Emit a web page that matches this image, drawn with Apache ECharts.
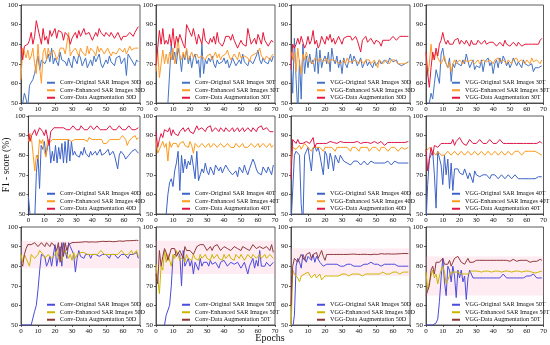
<!DOCTYPE html>
<html><head><meta charset="utf-8">
<script src="https://cdn.jsdelivr.net/npm/echarts@6/dist/echarts.min.js"></script>
<style>html,body{margin:0;padding:0;background:#fff}#c{width:550px;height:345px}</style>
</head><body><div id="c"></div>
<script>
// ---- DATA ----
const xTicks = [0, 10, 20, 30, 40, 50, 60, 70];
const yTicks = [50, 60, 70, 80, 90, 100];
const panelModels = ['Conv','Conv','VGG','VGG','Conv','Conv','VGG','VGG','Conv','Conv','VGG','VGG'];
const panelTags = ['30D','30T','30D','30T','40D','40T','40D','40T','50D','50T','50D','50T'];
const seriesKinds = ['Original SAR Images','Enhanced SAR Images','Data Augmentation'];

const o1=[48,50,55,52,48,59,60,62,65,70,74,67,72,71,70,72,75,71,78,70,73,72,69,76,72,73,71,69,73,70,68,74,72,70,75,73,69,71,73,68,70,72,69,74,71,73,75,70,68,69,72,70,74,71,70,69,73,72,74,70,71,73,64,75,74,72,71,69,72,71];
const e1=[62,78,76,73,77,72,74,78,70,65,80,68,60,76,78,72,78,74,73,77,75,72,74,78,77,78,75,74,86,74,76,75,78,77,74,78,76,77,74,79,75,78,77,76,74,79,76,78,77,75,76,78,76,74,76,77,75,74,78,77,76,78,75,76,79,77,76,78,77,78];
const r1=[79,72,79,79,80,82,86,80,84,92,88,84,80,88,82,84,80,87,84,85,88,83,87,86,86,82,86,87,84,80,83,84,86,83,87,84,85,88,85,84,86,84,82,84,86,84,88,86,85,84,86,87,84,86,85,83,84,86,85,82,84,85,84,83,86,85,84,86,85,89];

const o2=[40,40,40,40,40,42,48,50,51,80,72,76,70,78,74,66,75,72,77,70,74,68,73,75,70,72,63,80,65,72,70,73,71,74,70,68,72,70,69,71,73,70,72,68,70,73,71,69,70,72,70,75,71,70,69,72,73,70,71,74,77,72,70,73,71,72,70,73,71,74];
const e2=[66,77,63,62,77,70,75,70,76,72,78,70,75,83,74,72,76,73,78,72,74,76,73,72,75,73,72,74,73,72,74,73,75,72,74,76,73,75,72,74,73,75,77,74,72,73,75,74,72,76,73,72,74,75,73,71,74,73,75,74,76,78,74,73,72,74,73,72,74,75];
const r2=[69,68,87,80,88,80,82,80,85,79,88,78,84,81,85,84,80,78,90,91,86,84,88,84,80,85,84,80,88,82,81,80,83,81,84,80,86,81,82,79,81,84,83,84,82,85,82,81,78,80,82,80,81,79,88,84,80,81,83,80,85,84,80,86,82,83,79,80,82,81];

const o3=[72,55,83,62,45,72,52,80,65,74,68,75,70,72,66,78,65,77,68,72,74,70,76,66,78,72,70,74,68,72,65,73,70,68,72,75,70,74,72,69,71,73,68,70,72,69,71,70,68,71,69,70,72,70,69,72,71,70,73,74,71,70,72,70,71,69,68,70,71,71];
const e3=[76,72,76,66,78,70,65,75,72,76,73,71,72,70,73,72,71,73,72,71,72,73,70,72,71,72,73,71,72,70,71,72,70,73,71,72,71,70,72,71,70,72,71,70,72,71,72,70,71,72,70,68,72,71,70,71,72,71,70,72,71,72,71,70,71,70,71,70,71,71];
const r3=[67,80,78,80,83,80,84,85,78,80,84,80,82,87,80,82,78,80,84,82,80,84,82,85,81,83,80,82,84,82,80,83,82,84,83,84,82,83,84,82,83,76,82,83,84,81,82,83,82,80,82,83,81,79,82,83,82,83,82,83,84,83,82,83,84,83,84,83,84,84];

const o4=[45,48,50,55,52,60,67,68,60,75,78,72,70,68,73,61,70,68,72,70,71,69,72,70,75,74,68,70,72,67,69,70,68,72,66,71,70,73,69,71,65,70,72,68,73,70,74,72,69,71,68,70,73,72,69,71,70,68,72,70,71,69,68,70,66,68,69,68,69,69];
const e4=[75,64,70,80,72,74,76,73,72,70,72,74,70,68,71,66,70,72,70,71,72,71,70,72,73,71,70,72,71,70,71,72,70,71,72,73,71,70,72,71,70,72,71,73,71,70,72,71,70,72,71,70,72,71,73,71,70,72,71,70,72,71,70,73,71,70,72,71,70,72];
const r4=[76,65,58,68,76,72,78,74,80,82,86,82,80,82,80,81,80,82,81,83,80,82,81,80,82,81,79,82,80,81,80,82,81,80,81,82,80,79,81,80,81,80,79,80,81,80,79,82,80,81,79,80,81,80,79,81,80,79,78,80,79,80,79,80,79,80,79,80,82,83];

const o5=[59,50,48,45,48,71,80,63,85,83,87,80,84,88,76,82,77,85,76,84,78,86,76,87,76,88,77,87,80,82,80,81,79,82,80,84,81,80,79,82,80,81,82,80,81,83,80,79,81,82,83,80,81,82,80,81,73,80,82,83,80,78,79,80,81,82,81,83,82,81];
const e5=[87,91,88,80,72,80,78,88,86,88,82,79,88,86,87,88,87,88,89,88,87,88,89,88,87,88,89,87,88,88,87,88,89,88,87,88,88,87,89,88,88,87,88,89,88,87,88,86,85,86,87,88,87,88,89,88,87,88,89,90,91,88,85,87,88,89,88,90,88,89];
const r5=[92,87,90,91,93,90,89,94,93,92,90,93,92,85,92,93,94,93,94,93,94,93,94,95,93,94,93,94,95,94,93,94,93,95,94,93,94,93,94,95,94,93,94,95,94,93,94,93,94,93,94,95,94,93,94,93,94,95,94,93,94,93,94,95,94,93,94,93,94,94];

const o6=[40,40,40,40,42,45,50,60,66,68,64,72,76,82,62,80,71,78,73,77,75,80,79,68,82,67,70,73,71,76,72,70,74,72,70,75,76,72,74,71,70,75,74,72,73,70,71,72,69,74,73,71,75,72,70,73,72,78,76,73,71,72,70,74,73,71,74,72,70,75];
const e6=[88,81,82,85,87,84,86,77,87,84,86,85,86,84,86,85,87,85,86,84,87,85,81,86,85,84,85,86,85,84,85,86,84,85,86,85,84,85,86,85,84,85,86,85,84,85,84,86,85,84,85,86,84,85,84,85,86,85,84,85,86,84,85,86,85,84,85,86,84,85];
const r6=[92,84,88,91,89,93,94,92,94,90,93,91,92,90,92,93,94,92,93,94,92,93,91,92,95,93,92,94,93,92,94,93,95,92,93,94,93,92,94,93,92,94,93,92,93,94,92,93,94,92,93,94,92,93,94,93,92,94,93,92,94,93,95,93,92,94,93,92,93,92];

const o7=[45,62,80,82,81,80,55,45,80,82,84,85,72,83,85,82,84,80,79,70,82,80,73,81,78,72,80,78,76,80,79,77,78,76,77,75,76,77,76,77,76,75,76,77,76,75,76,77,76,76,75,76,77,76,75,76,76,77,76,75,76,77,76,76,75,76,77,76,76,76];
const e7=[76,84,85,83,84,85,83,82,86,85,84,83,82,84,83,84,85,84,83,82,84,83,84,83,84,83,82,84,83,84,83,84,83,84,83,82,84,83,84,83,82,84,83,84,83,84,82,83,84,83,84,83,82,84,83,84,83,82,83,84,83,84,83,82,83,84,83,83,84,84];
const r7=[68,88,87,86,88,86,87,86,85,87,86,86,85,89,84,86,87,86,87,86,87,86,86.5,87,86,86.5,87,86,86.5,87,86,86.5,87,86.5,86,86.5,87,86.5,86,87,86.5,86,87,86.5,86,86.5,87,86,86.5,87,86.5,86,86.5,87,86,85,86,86.5,87,86.5,86,86.5,87,86.5,86,86.5,87,86.5,86.5,87];

const o8=[45,65,78,80,82,70,53,82,83,75,65,80,70,78,63,76,62,73,72,73,71,72,70,73,72,68,71,70,66,72,70,71,69,68,70,69,70,69,68,70,69,70,69,68,69,70,69,68,69,70,69,68,69,70,69,68,69,68,67,68,69,68,67,68,69,68,67,69,69,69];
const e8=[82,83,84,83,82,81,80,82,81,80,81,80,81,82,81,80,81,82,81,80,81,82,81,80,81,82,81,80,81,82,81,80,81,82,81,80,81,82,81,80,81,82,81,80,81,82,81,80,81,82,81,80,81,82,81,82,81,80,81,82,81,82,81,82,81,82,83,81,81,80];
const r8=[83,72,78,84,80,85,86,84,85,86,87,86,85,86,87,86,88,85,87,86,89,88,86,87,85,86,88,87,86,87,86,87,88,87,86,87,86,87,88,87,86,87,86,87,88,87,86,87,86,87,86,87,86,85,86,87,86,87,86,87,86,87,86,85,86,87,86,87,87,86];

const o9=[50,50,50,50,50,50,50,51,57,60,68,78,86,87,85,80,82,85,80,79,91,80,85,90,80,92,88,84,92,90,88,86,77,84,88,85,86,84,86,85,86,84,86,85,86,87,85,84,86,85,86,85,84,86,85,86,85,84,85,86,85,86,85,84,86,85,86,85,87,84];
const e9=[86,82,86,84,83,80,86,87,84,85,86,88,87,86,84,83,86,87,84,85,86,88,84,85,83,86,88,87,84,86,83,87,84,86,85,87,86,87,88,86,87,86,87,86,87,86,87,88,87,86,87,86,87,86,87,86,87,86,87,88,87,86,87,86,87,88,86,87,88,85];
const r9=[82,80,86,89,91,90,91,90,92,91,90,91,92,91,90,92,91,90,92,91,90,88,92,82,92,85,92,88,91,92,92,92.3,92.1,92.4,92.2,92.5,92.3,92.2,92.5,92.4,92.3,92.6,92.4,92.5,92.3,92.6,92.5,92.4,92.7,92.5,92.6,92.4,92.7,92.6,92.5,92.8,92.6,92.7,92.9,92.8,92.7,92.9,93,92.8,93,92.9,93.1,93,93.2,93.1];

const o10=[40,40,40,40,45,50,55,56,60,70,85,86,87,88,86,70,88,80,82,84,80,83,76,82,80,78,84,80,82,81,82,80,83,81,80,82,83,79,82,81,83,82,80,81,82,83,81,80,82,81,79,80,82,81,76,80,82,84,79,83,80,88,80,81,80,82,81,80,81,82];
const e10=[81,82,66,80,78,88,82,86,85,80,86,84,88,87,83,84,85,82,86,84,85,83,86,84,85,83,86,84,85,86,84,85,83,86,84,85,86,84,85,83,86,84,85,86,84,85,83,86,85,84,86,85,83,84,86,85,84,86,85,84,85,86,84,85,86,84,85,86,85,84];
const r10=[76,71,88,80,85,89,87,83,82,89,88,89,85,84,88,87,84,90,88,87,88,89,86,88,90,89,91,90,91,90,88,89,90,88,90,89,91,90,88,89,90,91,89,90,88,89,90,91,89,90,88,90,91,89,90,88,89,91,90,89,88,90,91,89,88,90,89,88,91,87];

const o11=[45,48,55,80,84,82,79,86,84,82,85,86,83,86,82,85,84,82,83,80,79,81,80,81,80,81,80,81,80,80,81,80,80,81,80,81,80,80,81,80,81,80,81,81,80,81,81,82,81,81,82,81,81,80,81,81,80,81,80,81,80,81,80,80,81,80,80,80,80,80];
const e11=[45,78,76,75,74,72,75,74,76,75,77,76,74,75,76,74,75,76,73,74,75,76,75,74,75,76,75,76,75,76,76,75,76,76,75,76,76,75,76,76,76,76,75,76,76,76,76,77,76,76,76,77,76,76,77,76,76,77,76,77,77,76,77,77,76,77,77,76,77,77];
const r11=[60,80,84,85,82,84,86,85,83,86,85,87,84,86,85,87,84,86,88,85,83,86,85,86,85.5,86,85.5,86,86.2,86,85.8,86,86.3,86,85.8,86.1,86,86.2,85.9,86,86.2,86,85.9,86.1,86.3,86,86.2,85.9,86,86.1,86.3,86,86.2,86.4,86.1,86.2,86,86.3,86.1,86.2,86.4,86.2,86.1,86.3,86.2,86.4,86.3,86.5,86.3,86.4];

const o12=[50,50,50,50,50,50,51,53,62,74,84,72,65,80,78,72,80,75,64,78,74,78,72,75,63,74,78,76,74,73,74,73,74,75,74,73,74,75,74,73,74,75,74,75,74,75,76,75,74,75,74,75,74,75,74,75,74,75,74,75,75,74,75,75,76,75,74,74,74,74];
const e12=[77,68,72,75,78,74,76,71,75,78,80,77,71,73,75,77,76,77,76,77,78,76,77,76,77,76,77,77.5,77,77.5,77,77.5,77.5,77,77.5,77.5,77,77.5,77.5,77,77.5,77.5,77,77.5,77.5,77,77.5,77.5,77,77.5,77.5,77,77.5,77.5,77,77.5,77.5,77,77.5,77.5,77,77.5,77.5,77,77,76.5,77,77,77.5,77.5];
const r12=[65,66,70,78,80,76,82,82,82,83,84,81,82,81,83,80,82,84,83,85,84,82,83,81,82,84,82,83,82,83,83,82.5,83,83.5,83,82.5,83,83.5,83,82.5,83,83.5,83,82.5,83,83.5,83,82.5,83,83,82.5,83,83.5,83,82.5,82,83,83.5,83,82.5,83,82.5,82,83,82.5,83,82.5,83,83.5,83];

const originalSets = [o1,o2,o3,o4,o5,o6,o7,o8,o9,o10,o11,o12];
const enhancedSets = [e1,e2,e3,e4,e5,e6,e7,e8,e9,e10,e11,e12];
const augmentedSets = [r1,r2,r3,r4,r5,r6,r7,r8,r9,r10,r11,r12];
// shaded band (y range) for bottom-row panels
const bandLow  = [null,null,null,null,null,null,null,null,79,76,75,65];
const bandHigh = [null,null,null,null,null,null,null,null,93,93,89,85];

// ---- LAYOUT / STYLE ----
const FONT = '"Liberation Serif","Times New Roman",serif';
const colLeft = [21,156,291,426], rowTop = [5,116,227], W = 119, H = 98;
const rowColors = [
  ['#4472c4','#ff9a2a','#e8173a'],
  ['#3e63c8','#ff9a1a','#e0154a'],
  ['#4b4bdc','#cdb400','#8e3a3a']
];

const chart = echarts.init(document.getElementById('c'));
const grids=[],xAxes=[],yAxes=[],series=[],legends=[];
const sets = [originalSets, enhancedSets, augmentedSets];
for (let i=0;i<12;i++){
  const r=Math.floor(i/4), c=i%4;
  grids.push({left:colLeft[c],top:rowTop[r],width:W,height:H,show:true,borderColor:'#333',borderWidth:0.8,backgroundColor:'#fff'});
  xAxes.push({type:'value',gridIndex:i,min:xTicks[0],max:xTicks[xTicks.length-1],interval:10,
    axisLine:{show:true,onZero:false,lineStyle:{color:'#333',width:0.8}},
    axisTick:{show:true,length:2,lineStyle:{color:'#333',width:0.8}},
    axisLabel:{fontSize:7,margin:3,color:'#111',fontFamily:FONT},splitLine:{show:false}});
  const ya = {type:'value',gridIndex:i,min:yTicks[0],max:yTicks[yTicks.length-1],interval:10,
    axisLine:{show:true,onZero:false,lineStyle:{color:'#333',width:0.8}},
    axisTick:{show:true,length:2,lineStyle:{color:'#333',width:0.8}},
    axisLabel:{fontSize:7,margin:3,color:'#111',fontFamily:FONT},splitLine:{show:false}};
  if (i===4){ ya.name='F1 - score (%)'; ya.nameLocation='middle'; ya.nameGap=13; ya.nameTextStyle={fontSize:9.5,fontFamily:FONT,color:'#111'}; }
  yAxes.push(ya);
  const names=[];
  for (let k=0;k<3;k++){
    const name = panelModels[i]+'-'+seriesKinds[k]+' '+panelTags[i];
    names.push(name);
    const s = {type:'line',name:name,xAxisIndex:i,yAxisIndex:i,showSymbol:false,symbol:'none',
      data:sets[k][i].map((v,j)=>[j,v]),clip:true,
      lineStyle:{width:1,color:rowColors[r][k]},itemStyle:{color:rowColors[r][k]},z:2+k};
    if (k===2 && bandLow[i]!==null){
      s.markArea={silent:true,itemStyle:{color:'rgba(255,170,200,0.22)'},
        data:[[{xAxis:0,yAxis:bandLow[i]},{xAxis:70,yAxis:bandHigh[i]}]]};
    }
    series.push(s);
  }
  legends.push({left:colLeft[c]+26,top:rowTop[r]+74,orient:'vertical',icon:'rect',itemWidth:8,itemHeight:2,itemGap:0,padding:0,
    selectedMode:false,data:names,textStyle:{fontSize:6.2,lineHeight:7.5,fontFamily:FONT,color:'#111'}});
}

chart.setOption({
  animation:false,
  backgroundColor:'#fff',
  grid:grids,xAxis:xAxes,yAxis:yAxes,series:series,legend:legends,
  graphic:[{type:'text',x:270,y:338,style:{text:'Epochs',fontSize:10,fontFamily:FONT,fill:'#111',align:'center',verticalAlign:'middle',textAlign:'center',textVerticalAlign:'middle'}}]
});
</script></body></html>
